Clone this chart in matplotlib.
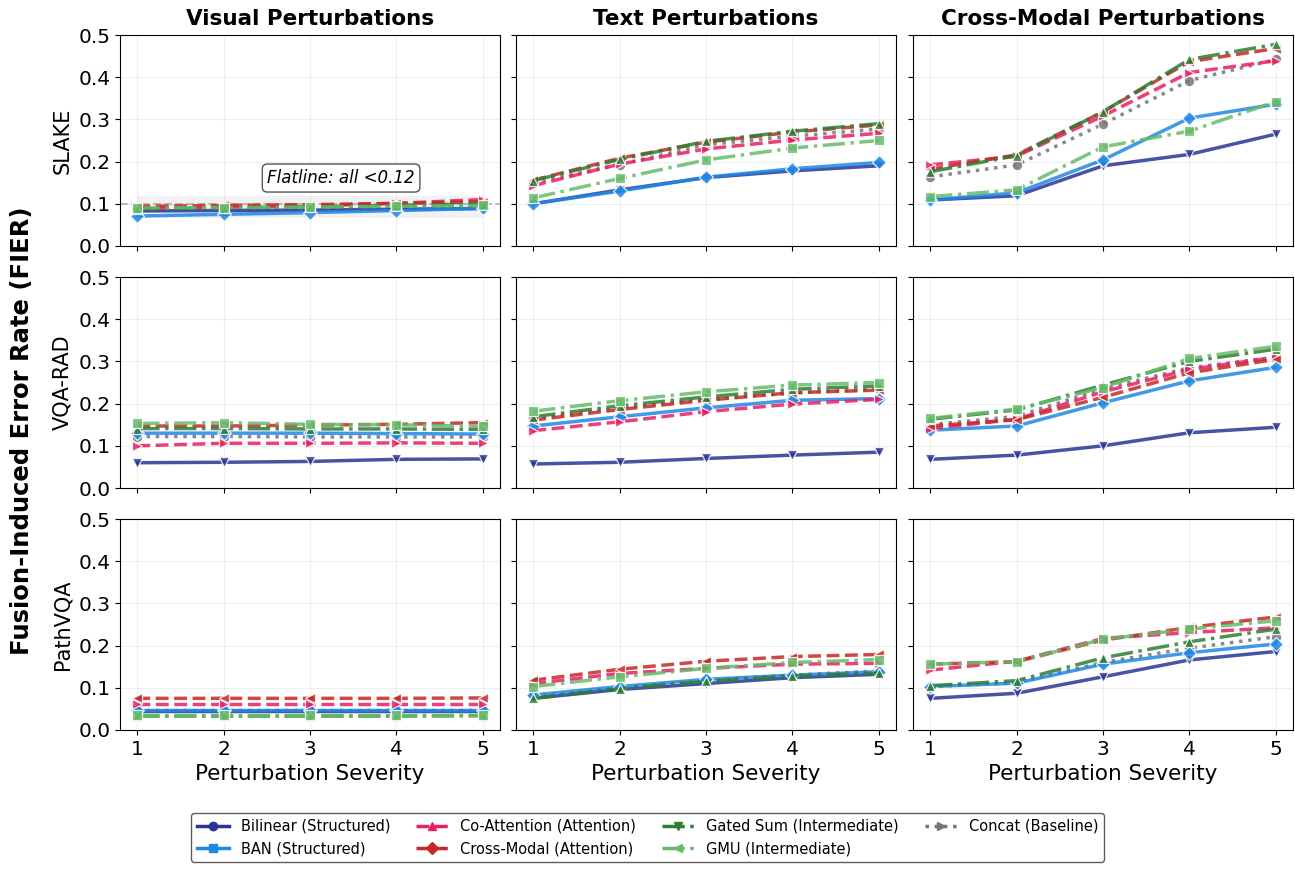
import matplotlib.pyplot as plt
from matplotlib.lines import Line2D

######
# severities and fusion models
######
severity = [1, 2, 3, 4, 5]
datasets = ['SLAKE', 'VQA-RAD', 'PathVQA']
perturbations = ['Visual Perturbations', 'Text Perturbations', 'Cross-Modal Perturbations']

models = ['Bilinear (Structured)', 'BAN (Structured)', 'Co-Attention (Attention)',
          'Cross-Modal (Attention)', 'Gated Sum (Intermediate)', 'GMU (Intermediate)',
          'Concat (Baseline)']

######
# FIER values, [dataset][perturbation] -> one list per model (same order as models)
######
slake_visual = [
    [0.083, 0.084, 0.085, 0.087, 0.089],
    [0.071, 0.075, 0.079, 0.084, 0.089],
    [0.089, 0.092, 0.095, 0.101, 0.110],
    [0.094, 0.096, 0.098, 0.101, 0.105],
    [0.088, 0.090, 0.093, 0.096, 0.100],
    [0.090, 0.091, 0.092, 0.094, 0.096],
    [0.087, 0.088, 0.089, 0.091, 0.093],
]
slake_text = [
    [0.100, 0.133, 0.162, 0.178, 0.190],
    [0.100, 0.130, 0.163, 0.183, 0.198],
    [0.143, 0.194, 0.230, 0.251, 0.267],
    [0.156, 0.208, 0.246, 0.270, 0.287],
    [0.155, 0.205, 0.248, 0.272, 0.290],
    [0.114, 0.160, 0.204, 0.232, 0.250],
    [0.150, 0.193, 0.240, 0.260, 0.277],
]
slake_cross = [
    [0.109, 0.119, 0.190, 0.217, 0.265],
    [0.109, 0.126, 0.204, 0.303, 0.336],
    [0.192, 0.213, 0.308, 0.411, 0.439],
    [0.182, 0.216, 0.318, 0.437, 0.468],
    [0.176, 0.214, 0.318, 0.442, 0.478],
    [0.117, 0.133, 0.235, 0.272, 0.342],
    [0.164, 0.192, 0.289, 0.392, 0.442],
]
rad_visual = [
    [0.060, 0.061, 0.063, 0.068, 0.069],
    [0.130, 0.130, 0.130, 0.129, 0.128],
    [0.100, 0.106, 0.106, 0.107, 0.106],
    [0.147, 0.147, 0.149, 0.151, 0.155],
    [0.141, 0.141, 0.140, 0.140, 0.139],
    [0.153, 0.155, 0.151, 0.150, 0.146],
    [0.122, 0.122, 0.121, 0.121, 0.121],
]
rad_text = [
    [0.057, 0.061, 0.070, 0.078, 0.085],
    [0.147, 0.169, 0.190, 0.208, 0.212],
    [0.136, 0.157, 0.181, 0.199, 0.210],
    [0.161, 0.186, 0.208, 0.226, 0.232],
    [0.169, 0.195, 0.216, 0.234, 0.242],
    [0.182, 0.207, 0.228, 0.244, 0.250],
    [0.165, 0.190, 0.210, 0.225, 0.235],
]
rad_cross = [
    [0.068, 0.078, 0.100, 0.131, 0.144],
    [0.137, 0.147, 0.202, 0.254, 0.286],
    [0.141, 0.163, 0.228, 0.281, 0.310],
    [0.147, 0.162, 0.215, 0.273, 0.305],
    [0.163, 0.185, 0.244, 0.300, 0.329],
    [0.165, 0.187, 0.238, 0.307, 0.336],
    [0.150, 0.170, 0.235, 0.285, 0.310],
]
path_visual = [
    [0.046, 0.046, 0.046, 0.046, 0.046],
    [0.048, 0.048, 0.048, 0.048, 0.048],
    [0.062, 0.062, 0.062, 0.062, 0.062],
    [0.075, 0.075, 0.075, 0.075, 0.076],
    [0.033, 0.033, 0.033, 0.033, 0.034],
    [0.036, 0.036, 0.036, 0.036, 0.036],
    [0.047, 0.047, 0.047, 0.047, 0.047],
]
path_text = [
    [0.075, 0.096, 0.110, 0.124, 0.132],
    [0.083, 0.103, 0.120, 0.130, 0.138],
    [0.110, 0.134, 0.146, 0.156, 0.158],
    [0.118, 0.144, 0.163, 0.174, 0.179],
    [0.075, 0.098, 0.115, 0.128, 0.135],
    [0.103, 0.126, 0.146, 0.160, 0.167],
    [0.080, 0.100, 0.118, 0.130, 0.140],
]
path_cross = [
    [0.075, 0.087, 0.126, 0.166, 0.186],
    [0.103, 0.111, 0.156, 0.183, 0.204],
    [0.142, 0.163, 0.217, 0.231, 0.242],
    [0.156, 0.162, 0.213, 0.243, 0.268],
    [0.105, 0.117, 0.171, 0.209, 0.239],
    [0.156, 0.162, 0.215, 0.239, 0.259],
    [0.103, 0.112, 0.160, 0.194, 0.221],
]

fier = [
    [slake_visual, slake_text, slake_cross],
    [rad_visual, rad_text, rad_cross],
    [path_visual, path_text, path_cross],
]

######
# styles
######
colors = ['#283593', '#1E88E5', '#E91E63', '#C62828', '#2E7D32', '#66BB6A', '#757575']
styles = ['-', '-', '--', '--', '-.', '-.', ':']
plot_markers = ['v', 'D', '>', '<', '^', 's', 'o']
legend_markers = ['o', 's', '^', 'D', 'v', '<', '>']
# baseline first so it sits underneath
draw_order = [6, 0, 1, 2, 3, 4, 5]

fig = plt.figure(figsize=(12.95, 8.71), dpi=100)

col_left = [0.0927, 0.3985, 0.705]
col_w = 0.2934
row_bottom = [0.7176, 0.4397, 0.1619]
row_h = 0.2422

axes = []
for r in range(3):
    row = []
    for c in range(3):
        ax = fig.add_axes([col_left[c], row_bottom[r], col_w, row_h])
        row.append(ax)
    axes.append(row)

for r in range(3):
    for c in range(3):
        ax = axes[r][c]
        vals = fier[r][c]
        for i in draw_order:
            ax.plot(severity, vals[i], color=colors[i], linestyle=styles[i],
                    linewidth=2.5, marker=plot_markers[i], markersize=7.5,
                    markeredgecolor='white', markeredgewidth=0.9, alpha=0.85,
                    zorder=3)
        ax.set_ylim(0, 0.5)
        ax.set_xlim(0.8, 5.2)
        ax.set_xticks(severity)
        ax.set_yticks([0.0, 0.1, 0.2, 0.3, 0.4, 0.5])
        ax.grid(True, alpha=0.3, color='#cccccc', linewidth=0.8)
        ax.tick_params(labelsize=14.5)
        if c == 0:
            ax.set_ylabel(datasets[r], fontsize=15)
        else:
            ax.set_yticklabels([])
        if r == 2:
            ax.set_xlabel('Perturbation Severity', fontsize=15.5)
        else:
            ax.set_xticklabels([])
        if r == 0:
            ax.set_title(perturbations[c], fontsize=15.5, fontweight='bold', pad=7)

# flatline highlight on SLAKE visual
ax = axes[0][0]
ax.fill_between(severity, 0.067, 0.118, color='#bbbbbb', alpha=0.2, zorder=1, linewidth=0)
ax.axhline(0.1, color='#aaaaaa', linestyle='--', linewidth=1.5, alpha=0.8, zorder=2)
ax.text(3.36, 0.161, 'Flatline: all <0.12', fontsize=12, style='italic',
        ha='center', va='center',
        bbox=dict(boxstyle='round,pad=0.3', facecolor='white', edgecolor='#555555'))

fig.text(0.017, 0.506, 'Fusion-Induced Error Rate (FIER)', fontsize=17.5, fontweight='bold',
         rotation=90, ha='center', va='center')

handles = []
for i in range(len(models)):
    handles.append(Line2D([0], [0], color=colors[i], linestyle=styles[i], linewidth=2.5,
                          marker=legend_markers[i], markersize=6))
fig.legend(handles, models, loc='center', bbox_to_anchor=(0.5, 0.0385), ncol=4,
           fontsize=10.5, frameon=True, edgecolor='#333333', fancybox=True,
           columnspacing=1.8, handlelength=2.2)

plt.savefig('out.png', dpi=100)
